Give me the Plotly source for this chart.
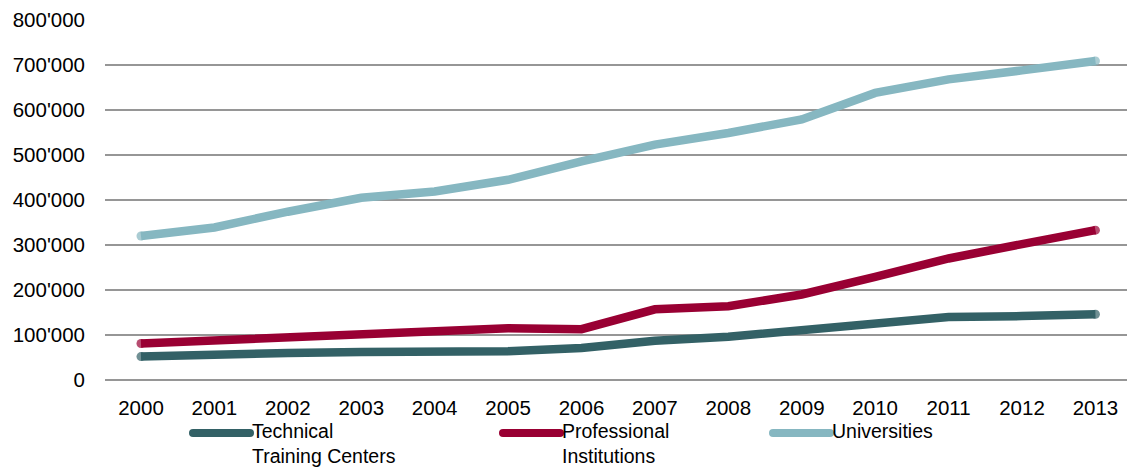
import plotly.graph_objects as go

# Enrolment by institution type, 2000-2013
years = list(range(2000, 2014))
technical = [52000, 57000, 60000, 62000, 64000, 64000, 71000, 87000, 96000, 111000, 129000, 140000, 142000, 146000]
professional = [81000, 88000, 92000, 103000, 107000, 115000, 113000, 157000, 164000, 190000, 229000, 270000, 302000, 333000]
universities = [320000, 339000, 374000, 405000, 419000, 445000, 486000, 523000, 549000, 579000, 638000, 668000, 688000, 709000]

series_names = ["Technical<br>Training Centers", "Professional<br>Institutions", "Universities"]
series_values = [technical, professional, universities]
colors = ["#336166", "#990033", "#86b7c1"]

y_ticks = [0, 100000, 200000, 300000, 400000, 500000, 600000, 700000, 800000]
y_ticktext = ["0", "100'000", "200'000", "300'000", "400'000", "500'000", "600'000", "700'000", "800'000"]

FONT = "Liberation Sans, Arial, sans-serif"
FS = 20.5
LEG_FS = 19.5
W, H = 1127, 470
ML, MR, MT, MB = 105, 0, 20, 90
PW, PH = W - ML - MR, H - MT - MB

fig = go.Figure()
for name, vals, col in zip(series_names, series_values, colors):
    ends = [9 if i in (0, len(vals) - 1) else 0 for i in range(len(vals))]
    fig.add_trace(go.Scatter(
        x=years, y=vals, mode="lines+markers", name=name,
        line=dict(color=col, width=8.5),
        marker=dict(color=col, size=ends, line=dict(width=0)),
        showlegend=False,
    ))

# Legend drawn in paper coordinates below the plot
def px_x(px):
    return (px - ML) / PW

def px_y(py):
    return (H - MB - py) / PH

legend_x = [193, 503, 773]
seg_len = 57
ly = 433
shapes = []
annotations = []
for name, col, x0 in zip(series_names, colors, legend_x):
    shapes.append(dict(type="line", xref="paper", yref="paper",
                       x0=px_x(x0), x1=px_x(x0 + seg_len), y0=px_y(ly), y1=px_y(ly),
                       line=dict(color=col, width=8)))
    for xe in (x0, x0 + seg_len):
        shapes.append(dict(type="circle", xref="paper", yref="paper",
                           xsizemode="pixel", ysizemode="pixel",
                           xanchor=px_x(xe), yanchor=px_y(ly),
                           x0=-4, x1=4, y0=-4, y1=4,
                           fillcolor=col, line=dict(width=0)))
    annotations.append(dict(xref="paper", yref="paper",
                            x=px_x(x0 + seg_len + 1), y=px_y(ly - 14),
                            xanchor="left", yanchor="top", align="left",
                            text=name, showarrow=False, borderpad=0,
                            font=dict(family=FONT, size=LEG_FS, color="#000000")))

fig.update_layout(
    width=W, height=H,
    margin=dict(l=ML, r=MR, t=MT, b=MB),
    paper_bgcolor="white", plot_bgcolor="white",
    font=dict(family=FONT, size=FS, color="#000000"),
    shapes=shapes, annotations=annotations,
    showlegend=False,
)
fig.update_xaxes(
    range=[1999.51, 2013.43], tickmode="array", tickvals=years,
    ticktext=[str(y) for y in years], showgrid=False, zeroline=False,
    showline=False, ticks="", ticklabelstandoff=13,
)
fig.update_yaxes(
    range=[0, 800000], tickmode="array", tickvals=y_ticks, ticktext=y_ticktext,
    showgrid=True, gridcolor="#969696", gridwidth=1.6,
    zeroline=True, zerolinecolor="#969696", zerolinewidth=1.6,
    showline=False, ticks="", ticklabelstandoff=19,
)

fig.write_html("out.html")
